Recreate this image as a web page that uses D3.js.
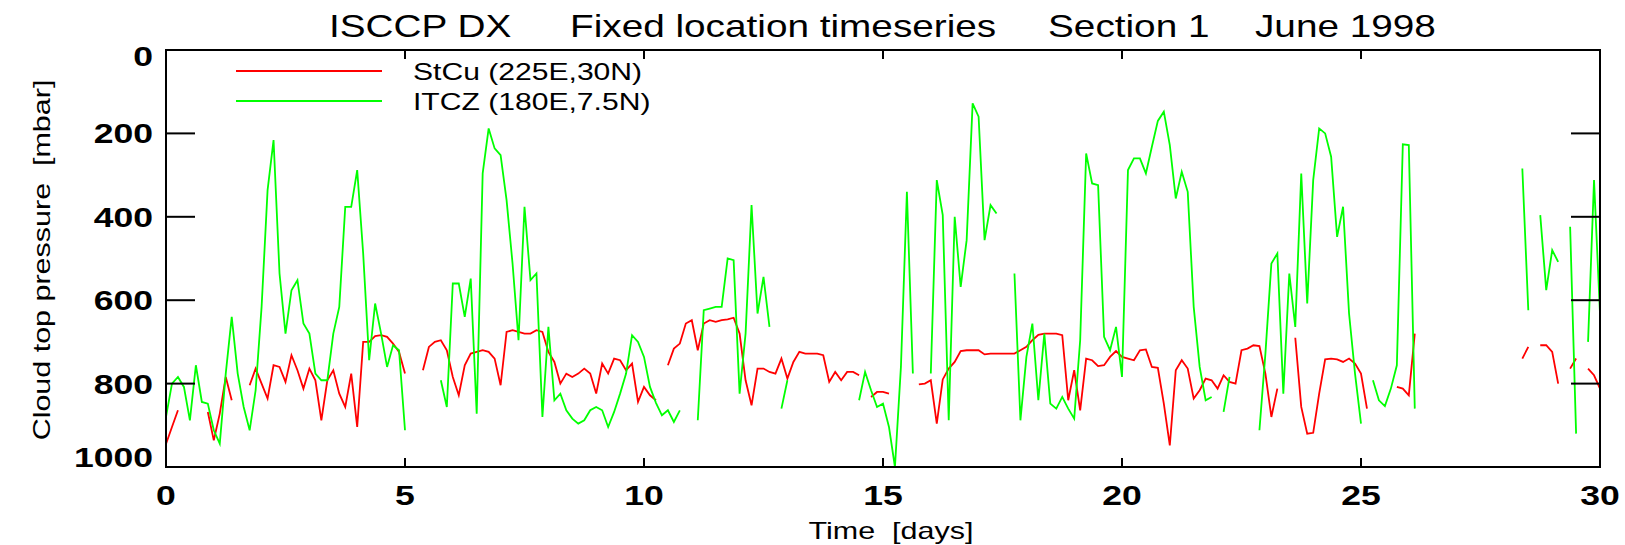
<!DOCTYPE html>
<html><head><meta charset="utf-8">
<script src="https://cdn.jsdelivr.net/npm/d3@7/dist/d3.min.js"></script>
<style>body{margin:0;background:#fff}svg{display:block}</style>
</head><body>
<svg id="c" width="1625" height="545"></svg>
<script>
// ---- data (3-hourly samples, day 0 .. 30) ----
const times = d3.range(241).map(i => i / 8);
const stcu = [
945,904,864,null,null,null,null,868,
936,872,784,840,null,null,804,764,
800,836,756,760,796,732,768,812,
764,792,888,792,768,824,856,776,
904,700,700,686,684,688,704,724,
776,null,null,768,712,700,696,720,
784,828,756,728,724,720,724,740,
804,676,672,676,680,680,672,676,
724,748,800,776,784,776,764,776,
824,752,776,740,744,768,752,844,
808,828,840,null,756,716,704,656,
648,720,656,648,652,648,646,642,
680,792,852,764,764,772,776,740,
788,748,724,728,728,728,732,796,
772,792,772,772,780,null,832,820,
820,824,null,null,null,null,802,800,
792,896,790,764,748,722,720,720,
720,730,728,728,728,728,728,720,
712,696,683,680,680,680,684,840,
768,864,740,744,758,756,736,722,
736,740,744,720,718,760,762,848,
948,768,744,764,836,816,788,792,
812,780,796,800,720,716,708,710,
776,880,812,null,null,690,856,920,
918,824,742,740,742,748,740,752,
776,860,null,null,null,null,808,812,
828,680,null,null,null,null,null,null,
null,null,null,null,null,null,null,null,
null,null,null,740,712,null,708,708,
724,800,null,764,740,null,764,780,
812];
const itcz = [
880,800,784,808,888,756,844,848,
912,944,776,640,776,856,912,816,
616,336,216,536,680,576,552,656,
680,776,792,792,680,616,376,376,
288,488,744,608,680,760,708,720,
912,null,null,null,null,null,792,856,
560,560,640,548,872,296,188,236,
252,360,512,696,376,552,536,880,
664,840,824,864,884,896,888,864,
856,864,904,868,824,776,684,700,
736,808,846,876,864,892,864,null,
null,888,624,620,616,616,500,504,
824,680,372,632,544,664,null,860,
792,null,null,null,null,null,null,null,
null,null,null,null,840,772,816,856,
848,904,1000,760,340,776,null,null,
776,312,396,888,400,568,456,128,
160,456,372,392,null,null,536,888,
736,656,840,680,848,860,832,860,
884,696,248,320,324,688,720,664,
784,288,260,260,296,232,170,148,
228,356,292,340,616,760,840,832,
null,868,784,null,null,null,null,912,
728,512,488,824,536,664,296,608,
312,188,200,256,448,376,632,776,
896,null,792,840,854,812,756,226,
228,860,null,null,null,null,null,null,
null,null,null,null,null,null,null,null,
null,null,null,284,624,null,396,576,
480,508,null,424,920,null,700,312,
632];
const seriesNames = ["StCu (225E,30N)", "ITCZ (180E,7.5N)"];
const seriesColors = ["#ff0000", "#00ff00"];
const xTicks = [0, 5, 10, 15, 20, 25, 30];
const yTicks = [0, 200, 400, 600, 800, 1000];
const titleParts = ["ISCCP DX", "Fixed location timeseries", "Section 1", "June 1998"];
const xTitle = "Time  [days]";
const yTitle = "Cloud top pressure  [mbar]";

// ---- layout ----
const SX = 1.27;
const FONT = "'Liberation Sans', Arial, Helvetica, sans-serif";
const svg = d3.select("#c");
const x = d3.scaleLinear().domain([0, 30]).range([166, 1600]);
const y = d3.scaleLinear().domain([0, 1000]).range([50, 467]);
const [L, R] = x.range(), [T, B] = y.range();

function label(g, txt, px, py, size, anchor, weight, rot) {
  return g.append("text")
    .attr("transform", `translate(${px},${py})${rot ? " rotate(" + rot + ")" : ""} scale(${SX},1)`)
    .attr("text-anchor", anchor)
    .attr("font-family", FONT)
    .attr("font-size", size)
    .attr("font-weight", weight || "normal")
    .attr("fill", "#000")
    .style("white-space", "pre")
    .text(txt);
}

// data lines
const line = d3.line()
  .defined(d => d[1] != null)
  .x(d => x(d[0]))
  .y(d => y(d[1]));
[stcu, itcz].forEach((s, k) => {
  svg.append("path")
    .datum(times.map((t, i) => [t, s[i]]))
    .attr("fill", "none")
    .attr("stroke", seriesColors[k])
    .attr("stroke-width", 1.8)
    .attr("d", line);
});

// frame + ticks
const ax = svg.append("g").attr("stroke", "#000").attr("stroke-width", 2).attr("fill", "none");
ax.append("rect").attr("x", L).attr("y", T).attr("width", R - L).attr("height", B - T);
const inner = xTicks.filter(v => v > 0 && v < 30);
inner.forEach(v => {
  ax.append("line").attr("x1", x(v)).attr("x2", x(v)).attr("y1", B).attr("y2", B - 9);
  ax.append("line").attr("x1", x(v)).attr("x2", x(v)).attr("y1", T).attr("y2", T + 9);
});
yTicks.filter(v => v > 0 && v < 1000).forEach(v => {
  ax.append("line").attr("x1", L).attr("x2", L + 29).attr("y1", y(v)).attr("y2", y(v));
  ax.append("line").attr("x1", R).attr("x2", R - 29).attr("y1", y(v)).attr("y2", y(v));
});

// tick labels
const tl = svg.append("g");
xTicks.forEach(v => label(tl, String(v), x(v), 505, 28, "middle", "bold"));
yTicks.forEach(v => {
  const cy = Math.min(Math.max(y(v), T + 6), B - 10);
  label(tl, String(v), 153, cy + 10, 28, "end", "bold");
});

// titles
const tg = svg.append("g");
const titleX = [329, 570, 1048, 1255];
titleParts.forEach((p, i) => label(tg, p, titleX[i], 37, 30.5, "start"));
label(tg, xTitle, 891, 539, 24, "middle");
label(tg, yTitle, 50, 260, 24, "middle", "normal", -90);

// legend
const lg = svg.append("g");
seriesNames.forEach((n, i) => {
  const ly = 71 + i * 30;
  lg.append("line").attr("x1", 236).attr("x2", 382).attr("y1", ly).attr("y2", ly)
    .attr("stroke", seriesColors[i]).attr("stroke-width", 1.8);
  label(lg, n, 413, ly + 9, 23.7, "start");
});
</script>
</body></html>
